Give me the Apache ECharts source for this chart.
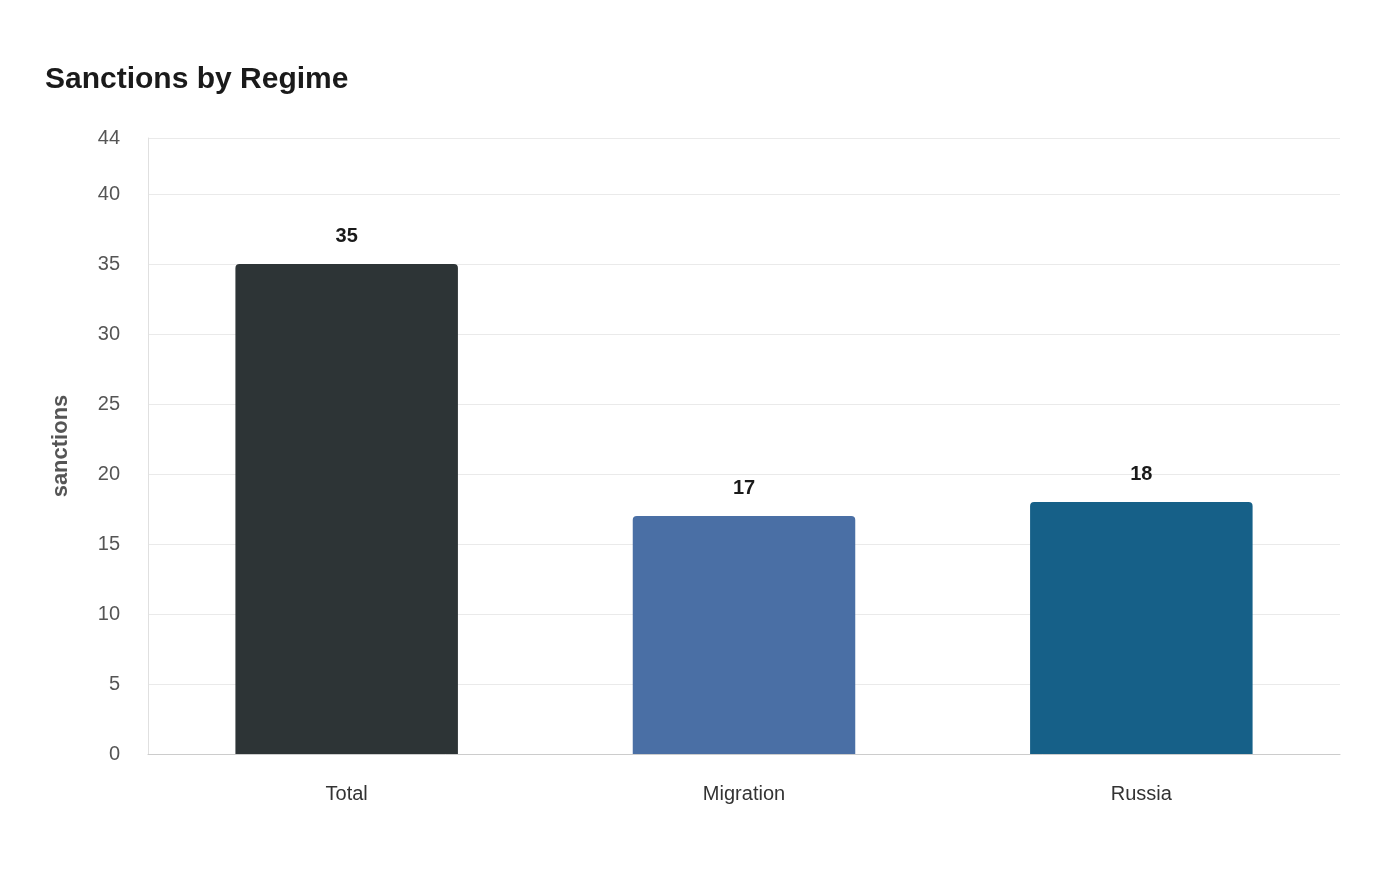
<!DOCTYPE html>
<html><head><meta charset="utf-8">
<script src="https://cdn.jsdelivr.net/npm/echarts@6/dist/echarts.min.js"></script>
<style>html,body{margin:0;padding:0;background:#fff}#c{width:1400px;height:880px}</style>
</head><body><div id="c"></div>
<script>
const categories = ["Total", "Migration", "Russia"];
const values = [35, 17, 18];
const colors = ["#2d3436", "#4a6fa5", "#166088"];
const chart = echarts.init(document.getElementById('c'));
chart.setOption({
  animation: false,
  title: { text: "Sanctions by Regime", left: 40, top: 60, textStyle: { fontFamily: "Liberation Sans", fontSize: 30, fontWeight: "bold", color: "#1a1a1a" } },
  grid: { left: 148, right: 60, top: 138, bottom: 126 },
  xAxis: { type: "category", data: categories,
    axisLine: { lineStyle: { color: "#ccc" } }, axisTick: { show: false },
    axisLabel: { fontFamily: "Liberation Sans", fontSize: 20, color: "#333", margin: 30 } },
  yAxis: { type: "value", min: 0, max: 44, interval: 5,
    name: "sanctions", nameLocation: "middle", nameGap: 76, nameRotate: 90,
    nameTextStyle: { fontFamily: "Liberation Sans", fontSize: 22, fontWeight: "bold", color: "#555" },
    axisLine: { show: true, lineStyle: { color: "#e0e0e0" } },
    splitLine: { lineStyle: { color: "#eaeaea" } },
    axisLabel: { fontFamily: "Liberation Sans", fontSize: 20, color: "#555", margin: 28 } },
  series: [{ type: "bar", barWidth: "56%",
    data: values.map((v, i) => ({ value: v, itemStyle: { color: colors[i], borderRadius: [4, 4, 0, 0] } })),
    label: { show: true, position: "top", distance: 18, fontFamily: "Liberation Sans", fontSize: 20, fontWeight: "bold", color: "#1a1a1a" } }]
});
</script></body></html>
